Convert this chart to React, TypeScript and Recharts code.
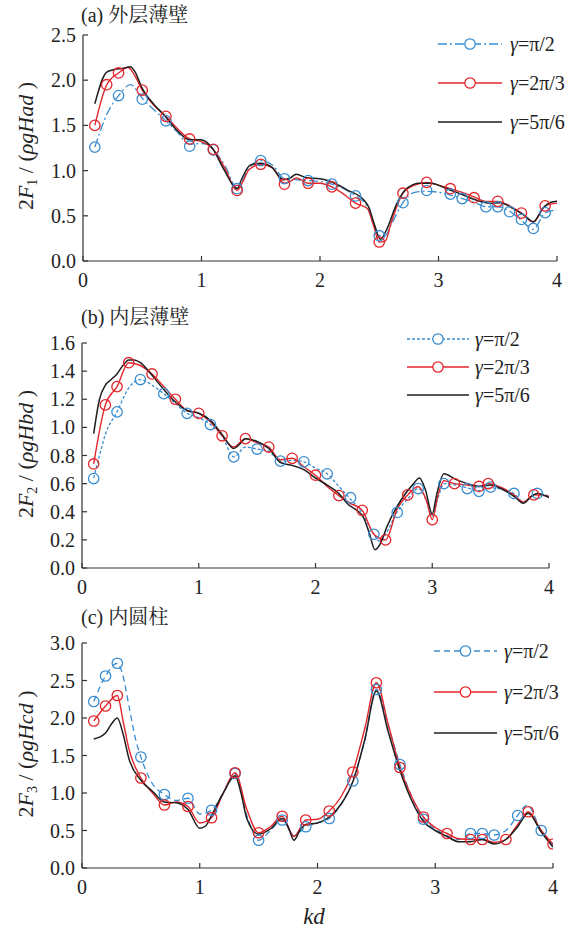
import React from 'react';
import { ComposedChart, Line, XAxis, YAxis } from 'recharts';

type Pt = [number, number];

const kdTicks = [0, 1, 2, 3, 4];
const ticksA = [0, 0.5, 1, 1.5, 2, 2.5];
const ticksB = [0, 0.2, 0.4, 0.6, 0.8, 1, 1.2, 1.4, 1.6];
const ticksC = [0, 0.5, 1, 1.5, 2, 2.5, 3];
const gammaText = ['=π/2', '=2π/3', '=5π/6'];

// (a) 外层薄壁
const aBlueLine: Pt[] = [[0.1,1.26],[0.2,1.62],[0.3,1.83],[0.4,1.95],[0.5,1.8],[0.6,1.67],[0.7,1.55],[0.8,1.42],[0.9,1.29],[1.0,1.3],[1.05,1.29],[1.1,1.23],[1.2,1.05],[1.3,0.81],[1.35,0.9],[1.4,1.03],[1.5,1.11],[1.6,1.06],[1.7,0.91],[1.8,0.9],[1.9,0.89],[2.0,0.88],[2.1,0.85],[2.2,0.8],[2.3,0.72],[2.4,0.6],[2.45,0.42],[2.5,0.28],[2.55,0.28],[2.6,0.4],[2.7,0.645],[2.8,0.76],[2.9,0.77],[3.0,0.76],[3.1,0.73],[3.2,0.69],[3.3,0.65],[3.4,0.6],[3.5,0.6],[3.6,0.55],[3.7,0.45],[3.8,0.35],[3.9,0.535],[4.0,0.565]];
const aBlueMarks: Pt[] = [[0.1,1.26],[0.3,1.83],[0.5,1.79],[0.7,1.55],[0.9,1.27],[1.1,1.23],[1.3,0.8],[1.5,1.11],[1.7,0.91],[1.9,0.89],[2.1,0.85],[2.3,0.72],[2.5,0.28],[2.7,0.645],[2.9,0.78],[3.1,0.74],[3.2,0.69],[3.4,0.6],[3.5,0.6],[3.6,0.545],[3.7,0.46],[3.8,0.36],[3.9,0.535]];
const aRedLine: Pt[] = [[0.1,1.5],[0.2,1.95],[0.3,2.08],[0.38,2.14],[0.45,2.02],[0.5,1.89],[0.6,1.72],[0.7,1.6],[0.8,1.46],[0.9,1.35],[1.0,1.32],[1.1,1.235],[1.2,1.02],[1.3,0.78],[1.35,0.88],[1.4,1.01],[1.5,1.07],[1.6,1.03],[1.7,0.86],[1.75,0.88],[1.8,0.92],[1.9,0.86],[2.0,0.86],[2.1,0.82],[2.2,0.74],[2.3,0.64],[2.4,0.58],[2.45,0.4],[2.5,0.21],[2.55,0.22],[2.6,0.42],[2.7,0.75],[2.8,0.84],[2.9,0.87],[3.0,0.84],[3.1,0.8],[3.2,0.76],[3.3,0.71],[3.4,0.66],[3.5,0.66],[3.6,0.61],[3.7,0.53],[3.8,0.43],[3.9,0.61],[4.0,0.64]];
const aRedMarks: Pt[] = [[0.1,1.5],[0.2,1.95],[0.3,2.08],[0.5,1.89],[0.7,1.6],[0.9,1.35],[1.1,1.235],[1.3,0.78],[1.5,1.07],[1.7,0.85],[1.9,0.86],[2.1,0.82],[2.3,0.64],[2.5,0.21],[2.7,0.75],[2.9,0.87],[3.1,0.8],[3.3,0.7],[3.5,0.66],[3.7,0.53],[3.9,0.61]];
const aBlack: Pt[] = [[0.1,1.74],[0.2,2.09],[0.27,2.12],[0.33,2.13],[0.4,2.15],[0.44,2.09],[0.5,1.91],[0.6,1.73],[0.68,1.62],[0.79,1.45],[0.9,1.34],[0.99,1.34],[1.09,1.25],[1.19,1.01],[1.3,0.8],[1.34,0.91],[1.41,1.06],[1.5,1.08],[1.59,1.04],[1.69,0.9],[1.75,0.92],[1.8,0.96],[1.89,0.92],[2.0,0.91],[2.09,0.88],[2.23,0.785],[2.37,0.675],[2.41,0.6],[2.46,0.4],[2.51,0.24],[2.56,0.34],[2.65,0.64],[2.73,0.8],[2.84,0.86],[2.93,0.86],[3.07,0.8],[3.21,0.73],[3.35,0.66],[3.43,0.64],[3.52,0.645],[3.63,0.58],[3.72,0.51],[3.8,0.435],[3.88,0.58],[3.94,0.645],[4.0,0.66]];

// (b) 内层薄壁
const bBlueLine: Pt[] = [[0.1,0.64],[0.15,0.8],[0.2,0.95],[0.3,1.11],[0.4,1.28],[0.5,1.34],[0.6,1.3],[0.7,1.24],[0.8,1.17],[0.9,1.1],[1.0,1.07],[1.1,1.02],[1.2,0.94],[1.3,0.79],[1.4,0.86],[1.5,0.846],[1.6,0.83],[1.7,0.76],[1.8,0.765],[1.9,0.755],[2.0,0.71],[2.1,0.67],[2.2,0.58],[2.3,0.49],[2.4,0.39],[2.5,0.24],[2.55,0.19],[2.6,0.24],[2.7,0.4],[2.8,0.5],[2.88,0.565],[2.95,0.48],[3.0,0.37],[3.05,0.5],[3.1,0.6],[3.2,0.59],[3.3,0.57],[3.4,0.55],[3.5,0.57],[3.6,0.56],[3.7,0.53],[3.78,0.47],[3.9,0.53],[4.0,0.51]];
const bBlueMarks: Pt[] = [[0.1,0.636],[0.3,1.11],[0.5,1.34],[0.7,1.24],[0.9,1.1],[1.1,1.02],[1.3,0.79],[1.5,0.846],[1.7,0.76],[1.9,0.755],[2.1,0.67],[2.3,0.5],[2.5,0.24],[2.7,0.395],[2.88,0.565],[3.1,0.6],[3.3,0.565],[3.4,0.545],[3.5,0.575],[3.7,0.53],[3.9,0.53]];
const bRedLine: Pt[] = [[0.1,0.74],[0.2,1.16],[0.3,1.29],[0.4,1.46],[0.5,1.44],[0.6,1.38],[0.7,1.29],[0.8,1.2],[0.9,1.12],[1.0,1.1],[1.1,1.04],[1.2,0.94],[1.3,0.86],[1.4,0.92],[1.5,0.89],[1.6,0.86],[1.7,0.77],[1.8,0.78],[1.9,0.72],[2.0,0.66],[2.1,0.58],[2.2,0.515],[2.3,0.46],[2.4,0.41],[2.5,0.24],[2.6,0.2],[2.7,0.42],[2.79,0.52],[2.88,0.58],[2.95,0.48],[3.0,0.344],[3.05,0.52],[3.1,0.62],[3.19,0.6],[3.3,0.59],[3.4,0.58],[3.48,0.6],[3.6,0.57],[3.7,0.52],[3.78,0.47],[3.87,0.52],[4.0,0.51]];
const bRedMarks: Pt[] = [[0.1,0.74],[0.2,1.16],[0.3,1.29],[0.4,1.46],[0.6,1.38],[0.8,1.2],[1.0,1.1],[1.2,0.94],[1.4,0.92],[1.6,0.86],[1.8,0.78],[2.0,0.66],[2.2,0.515],[2.4,0.41],[2.6,0.2],[2.79,0.52],[3.0,0.344],[3.19,0.6],[3.4,0.58],[3.48,0.6],[3.87,0.52]];
const bBlack: Pt[] = [[0.1,0.955],[0.15,1.2],[0.2,1.3],[0.25,1.34],[0.3,1.38],[0.35,1.44],[0.4,1.48],[0.45,1.48],[0.5,1.46],[0.6,1.37],[0.7,1.27],[0.8,1.18],[0.9,1.12],[1.0,1.1],[1.1,1.05],[1.2,0.95],[1.3,0.85],[1.35,0.88],[1.4,0.92],[1.5,0.9],[1.6,0.85],[1.7,0.75],[1.8,0.73],[1.9,0.7],[2.0,0.64],[2.1,0.59],[2.2,0.53],[2.27,0.46],[2.41,0.36],[2.46,0.25],[2.51,0.13],[2.56,0.18],[2.61,0.29],[2.73,0.48],[2.84,0.6],[2.89,0.64],[2.94,0.56],[3.0,0.385],[3.04,0.53],[3.1,0.67],[3.2,0.63],[3.3,0.6],[3.4,0.58],[3.5,0.59],[3.6,0.56],[3.7,0.51],[3.78,0.46],[3.85,0.51],[3.9,0.53],[4.0,0.5]];

// (c) 内圆柱
const cBlueLine: Pt[] = [[0.1,2.22],[0.2,2.56],[0.3,2.73],[0.35,2.55],[0.4,2.15],[0.45,1.75],[0.5,1.48],[0.6,1.12],[0.7,0.98],[0.8,0.9],[0.9,0.93],[1.0,0.72],[1.1,0.77],[1.2,1.0],[1.3,1.25],[1.4,0.7],[1.5,0.37],[1.6,0.5],[1.7,0.64],[1.8,0.43],[1.9,0.55],[2.0,0.6],[2.1,0.66],[2.2,0.85],[2.3,1.16],[2.4,1.7],[2.5,2.38],[2.6,1.9],[2.7,1.38],[2.8,0.95],[2.9,0.65],[3.0,0.52],[3.1,0.43],[3.2,0.38],[3.3,0.46],[3.4,0.46],[3.5,0.44],[3.6,0.5],[3.7,0.7],[3.78,0.84],[3.9,0.5],[4.0,0.3]];
const cBlueMarks: Pt[] = [[0.1,2.22],[0.2,2.56],[0.3,2.73],[0.5,1.48],[0.7,0.98],[0.9,0.93],[1.1,0.77],[1.3,1.26],[1.5,0.37],[1.7,0.64],[1.9,0.55],[2.1,0.66],[2.3,1.16],[2.5,2.38],[2.7,1.38],[2.9,0.65],[3.3,0.46],[3.4,0.46],[3.5,0.44],[3.7,0.7],[3.9,0.5]];
const cRedLine: Pt[] = [[0.1,1.96],[0.2,2.16],[0.3,2.3],[0.35,1.95],[0.4,1.58],[0.5,1.2],[0.6,1.0],[0.7,0.84],[0.8,0.88],[0.9,0.82],[1.0,0.6],[1.1,0.67],[1.2,1.0],[1.3,1.27],[1.4,0.78],[1.5,0.47],[1.6,0.55],[1.7,0.69],[1.8,0.42],[1.9,0.64],[2.0,0.65],[2.1,0.76],[2.2,0.95],[2.3,1.28],[2.4,1.85],[2.5,2.47],[2.6,1.92],[2.7,1.34],[2.8,0.95],[2.9,0.68],[3.0,0.54],[3.1,0.46],[3.2,0.39],[3.3,0.38],[3.4,0.38],[3.5,0.34],[3.6,0.38],[3.7,0.58],[3.79,0.75],[3.9,0.5],[4.0,0.32]];
const cRedMarks: Pt[] = [[0.1,1.96],[0.2,2.16],[0.3,2.3],[0.5,1.2],[0.7,0.84],[0.9,0.82],[1.1,0.67],[1.3,1.27],[1.5,0.47],[1.7,0.69],[1.9,0.64],[2.1,0.76],[2.3,1.28],[2.5,2.47],[2.7,1.34],[2.9,0.68],[3.1,0.46],[3.3,0.38],[3.4,0.38],[3.6,0.38],[3.79,0.75],[4.0,0.32]];
const cBlack: Pt[] = [[0.1,1.72],[0.2,1.8],[0.25,1.92],[0.3,2.0],[0.35,1.78],[0.4,1.45],[0.5,1.17],[0.6,1.02],[0.7,0.88],[0.8,0.87],[0.9,0.78],[1.0,0.53],[1.05,0.56],[1.1,0.7],[1.2,1.0],[1.3,1.23],[1.35,1.0],[1.4,0.66],[1.5,0.45],[1.6,0.52],[1.7,0.66],[1.75,0.55],[1.8,0.37],[1.85,0.5],[1.9,0.58],[2.0,0.6],[2.1,0.68],[2.2,0.85],[2.3,1.15],[2.4,1.7],[2.5,2.36],[2.6,1.82],[2.7,1.3],[2.8,0.9],[2.9,0.62],[3.0,0.5],[3.1,0.42],[3.2,0.35],[3.3,0.35],[3.4,0.38],[3.5,0.32],[3.6,0.38],[3.7,0.55],[3.79,0.73],[3.9,0.48],[4.0,0.28]];

const BLUE = '#3a8dd0';
const RED = '#e2262b';
const BLACK = '#1e1e1e';
const SERIF = 'Liberation Serif, DejaVu Serif, serif';
const CJK = 'Liberation Serif, Noto Serif CJK SC, Noto Sans CJK SC, serif';

const toPts = (arr: Pt[]) => arr.map(([x, y]) => ({ x, y }));

const circleDot = (color: string) => (p: any) => (
  <circle key={`d-${p.index}`} cx={p.cx} cy={p.cy} r={5.2} fill="none" stroke={color} strokeWidth={1.3} />
);

const XTick = (p: any) => (
  <g>
    <line x1={p.x} x2={p.x} y1={p.y} y2={p.y - 5} stroke="#333" strokeWidth={1.2} />
    <text x={p.x} y={p.y + 26} textAnchor="middle" style={{ fontFamily: SERIF, fontSize: 20 }} fill="#222">
      {p.payload.value}
    </text>
  </g>
);

const YTick = (p: any) => (
  <g>
    <line x1={p.x} x2={p.x + 5} y1={p.y} y2={p.y} stroke="#333" strokeWidth={1.2} />
    <text x={p.x - 7} y={p.y + 7} textAnchor="end" style={{ fontFamily: SERIF, fontSize: 20 }} fill="#222">
      {Number(p.payload.value).toFixed(1)}
    </text>
  </g>
);

type PanelProps = {
  top: number;
  height: number;
  left: number;
  right: number;
  plotTop: number;
  plotBottom: number;
  yMax: number;
  yTicks: number[];
  blueDash: string;
  blueLine: Pt[];
  blueMarks: Pt[];
  redLine: Pt[];
  redMarks: Pt[];
  black: Pt[];
};

const Panel = (p: PanelProps) => (
  <div style={{ position: 'absolute', left: 0, top: p.top, width: 577, height: p.height }}>
    <ComposedChart width={577} height={p.height} margin={{ top: p.plotTop, right: 577 - p.right, bottom: 0, left: 0 }}>
      <XAxis
        type="number"
        dataKey="x"
        domain={[0, 4]}
        ticks={kdTicks}
        interval={0}
        height={p.height - p.plotBottom}
        axisLine={{ stroke: '#333', strokeWidth: 1.2 }}
        tickLine={false}
        tickSize={0}
        tickMargin={0}
        tick={(t: any) => <XTick {...t} />}
        allowDataOverflow
      />
      <YAxis
        type="number"
        domain={[0, p.yMax]}
        ticks={p.yTicks}
        interval={0}
        width={p.left}
        axisLine={{ stroke: '#333', strokeWidth: 1.2 }}
        tickLine={false}
        tickSize={0}
        tickMargin={0}
        tick={(t: any) => <YTick {...t} />}
        allowDataOverflow
      />
      <Line data={toPts(p.blueLine)} dataKey="y" type="monotone" stroke={BLUE} strokeWidth={1.3} strokeDasharray={p.blueDash} dot={false} activeDot={false} isAnimationActive={false} />
      <Line data={toPts(p.blueMarks)} dataKey="y" stroke="none" dot={circleDot(BLUE)} activeDot={false} isAnimationActive={false} />
      <Line data={toPts(p.redLine)} dataKey="y" type="monotone" stroke={RED} strokeWidth={1.4} dot={false} activeDot={false} isAnimationActive={false} />
      <Line data={toPts(p.redMarks)} dataKey="y" stroke="none" dot={circleDot(RED)} activeDot={false} isAnimationActive={false} />
      <Line data={toPts(p.black)} dataKey="y" type="monotone" stroke={BLACK} strokeWidth={1.5} dot={false} activeDot={false} isAnimationActive={false} />
    </ComposedChart>
  </div>
);

const Legend = ({ x1, x2, tx, rows, dash }: { x1: number; x2: number; tx: number; rows: number[]; dash: string }) => {
  const mid = (x1 + x2) / 2;
  const styles = [
    { color: BLUE, dash, mark: true },
    { color: RED, dash: undefined, mark: true },
    { color: BLACK, dash: undefined, mark: false },
  ];
  return (
    <g>
      {styles.map((s, i) => (
        <g key={i}>
          <line x1={x1} x2={x2} y1={rows[i]} y2={rows[i]} stroke={s.color} strokeWidth={1.4} strokeDasharray={s.dash} />
          {s.mark && <circle cx={mid} cy={rows[i]} r={5.2} fill="#fff" stroke={s.color} strokeWidth={1.3} />}
          <text x={tx} y={rows[i] + 7} style={{ fontFamily: SERIF, fontSize: 20 }} fill="#222">
            <tspan fontStyle="italic">γ</tspan>
            {gammaText[i]}
          </text>
        </g>
      ))}
    </g>
  );
};

const YLabel = ({ x, y, sub, letter }: { x: number; y: number; sub: string; letter: string }) => (
  <text x={x} y={y} transform={`rotate(-90, ${x}, ${y})`} textAnchor="middle" style={{ fontFamily: SERIF, fontSize: 22 }} fill="#222">
    <tspan>2</tspan>
    <tspan fontStyle="italic">F</tspan>
    <tspan fontSize={14} dy={4}>{sub}</tspan>
    <tspan dy={-4}> / (</tspan>
    <tspan fontStyle="italic">{`ρgH${letter}d`}</tspan>
    <tspan> )</tspan>
  </text>
);

export default function App() {
  return (
    <div style={{ position: 'absolute', left: 0, top: 0, width: 577, height: 929, background: '#fff' }}>
      <Panel top={0} height={300} left={83} right={557} plotTop={35} plotBottom={261} yMax={2.5} yTicks={ticksA}
        blueDash="9 3 2 3" blueLine={aBlueLine} blueMarks={aBlueMarks} redLine={aRedLine} redMarks={aRedMarks} black={aBlack} />
      <Panel top={300} height={300} left={82} right={549} plotTop={43} plotBottom={268} yMax={1.6} yTicks={ticksB}
        blueDash="3 2" blueLine={bBlueLine} blueMarks={bBlueMarks} redLine={bRedLine} redMarks={bRedMarks} black={bBlack} />
      <Panel top={600} height={329} left={82} right={553} plotTop={43} plotBottom={268} yMax={3} yTicks={ticksC}
        blueDash="6 4" blueLine={cBlueLine} blueMarks={cBlueMarks} redLine={cRedLine} redMarks={cRedMarks} black={cBlack} />
      <svg width={577} height={929} style={{ position: 'absolute', left: 0, top: 0, pointerEvents: 'none' }}>
        <text x={81} y={22} style={{ fontFamily: CJK, fontSize: 20 }} fill="#222">(a) 外层薄壁</text>
        <text x={81} y={324} style={{ fontFamily: CJK, fontSize: 20 }} fill="#222">(b) 内层薄壁</text>
        <text x={81} y={624} style={{ fontFamily: CJK, fontSize: 20 }} fill="#222">(c) 内圆柱</text>
        <YLabel x={33} y={146} sub="1" letter="a" />
        <YLabel x={33} y={454} sub="2" letter="b" />
        <YLabel x={33} y={754} sub="3" letter="c" />
        <Legend x1={438} x2={502} tx={510} rows={[44, 83, 122]} dash="9 3 2 3" />
        <Legend x1={407} x2={469} tx={475} rows={[339, 367, 395]} dash="3 2" />
        <Legend x1={434} x2={497} tx={504} rows={[651, 692, 733]} dash="6 4" />
        <text x={314} y={924} textAnchor="middle" style={{ fontFamily: SERIF, fontStyle: 'italic', fontSize: 23 }} fill="#222">kd</text>
      </svg>
    </div>
  );
}
